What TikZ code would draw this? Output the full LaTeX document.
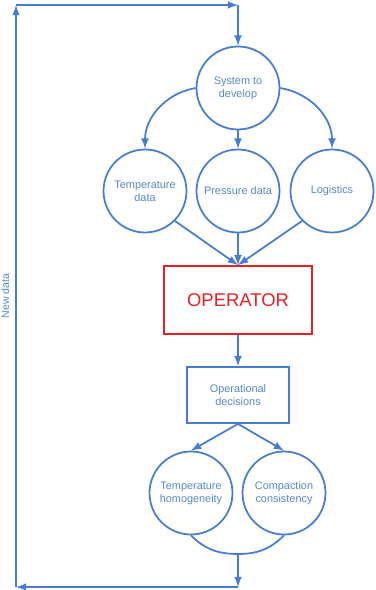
\documentclass[tikz,border=0pt]{standalone}
\usepackage{fontspec}
\setmainfont{Liberation Sans}
\definecolor{lineblue}{RGB}{70,125,210}
\definecolor{textblue}{RGB}{85,135,205}
\definecolor{opred}{RGB}{235,30,35}

\begin{document}
\begin{tikzpicture}[x=0.02cm, y=-0.02cm,
	bubble/.style={circle, draw=lineblue, line width=1pt, minimum size=1.66cm, inner sep=0pt, align=center, text=textblue, font=\fontsize{6.2}{7.4}\selectfont},
	opbox/.style={rectangle, draw=opred, line width=1pt, minimum width=2.96cm, minimum height=1.36cm, text=opred, font=\fontsize{10.5}{12}\selectfont},
	decbox/.style={rectangle, draw=lineblue, line width=1pt, minimum width=2.04cm, minimum height=1.12cm, align=center, text=textblue, font=\fontsize{6.2}{7.4}\selectfont},
	flow/.style={draw=lineblue, line width=1pt, -latex},
	loop/.style={draw=lineblue, line width=1pt}]
	\useasboundingbox (0,0) rectangle (375,590);
	\node[bubble] (sys) at (238,88) {System to\\develop};
		\node[bubble] (temp) at (145,191) {Temperature\\data};
		\node[bubble] (pres) at (238,191) {Pressure data};
		\node[bubble] (log) at (332,191) {Logistics};
			\node[opbox] (op) at (238,300) {OPERATOR};
			\node[decbox] (dec) at (238,395) {Operational\\decisions};
				\node[bubble] (hom) at (191,493) {Temperature\\homogeneity};
				\node[bubble] (comp) at (284,493) {Compaction\\consistency};
	\coordinate (merge) at (238,554);
	\coordinate (br) at (238,587);
	\coordinate (bl) at (16,587);
	\coordinate (tl) at (16,5);
	\coordinate (tr) at (238,5);
	\draw[flow] (sys.west) to[out=190, in=90] (temp.north);
	\draw[flow] (sys.south) to (pres.north);
	\draw[flow] (sys.east) to[out=-10, in=90] (log.north);
	\draw[flow] (temp.-45) to (op.north);
	\draw[flow] (pres.south) to (op.north);
	\draw[flow] (log.225) to (op.north);
	\draw[flow] (op.south) to (dec.north);
	\draw[flow] (dec.south) to (hom.north);
	\draw[flow] (dec.south) to (comp.north);
	\draw[loop] (hom.south) to[out=-45, in=180] (merge) to[out=0, in=-135] (comp.south);
	\draw[flow] (merge) to (br);
	\draw[flow] (br) to (bl);
	\draw[flow] (bl) to node[sloped, above, text=textblue, font=\fontsize{6}{7}\selectfont] (newdata) {New data} (tl);
	\draw[flow] (tl) to (tr);
	\draw[flow] (tr) to (sys.north);
\end{tikzpicture}
\end{document}
